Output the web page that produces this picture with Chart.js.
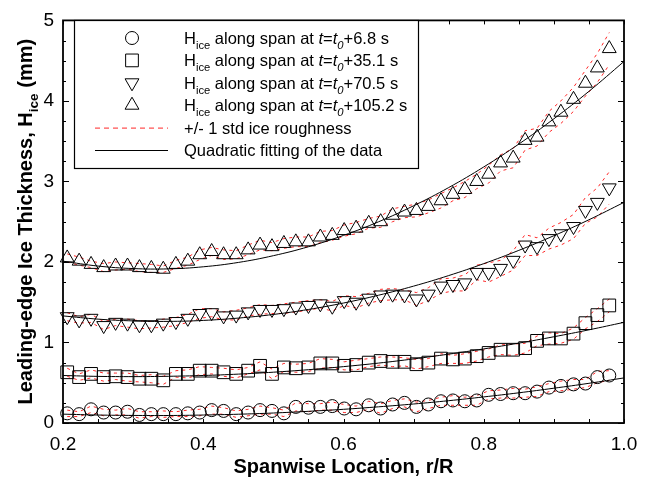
<!DOCTYPE html>
<html>
<head>
<meta charset="utf-8">
<script src="https://cdn.jsdelivr.net/npm/chart.js@4.4.1/dist/chart.umd.min.js"></script>
<style>
html, body { margin: 0; padding: 0; background: #fff; }
#wrap { width: 656px; height: 479px; }
</style>
</head>
<body>
<div id="wrap"><canvas id="iceChart" width="656" height="479"></canvas></div>
<script>
// spanwise stations (r/R)
const span = [
    0.206, 0.223, 0.240, 0.258, 0.275, 0.292, 0.309, 0.326, 0.343, 0.361,
    0.378, 0.395, 0.412, 0.429, 0.447, 0.464, 0.481, 0.498, 0.515, 0.532,
    0.550, 0.567, 0.584, 0.601, 0.618, 0.636, 0.653, 0.670, 0.687, 0.704,
    0.721, 0.739, 0.756, 0.773, 0.790, 0.807, 0.824, 0.842, 0.859, 0.876,
    0.893, 0.910, 0.928, 0.945, 0.962, 0.979
];

// ice thickness (mm) at each time
const hIce068 = [
    0.12, 0.11, 0.17, 0.13, 0.13, 0.14, 0.10, 0.11, 0.11, 0.11,
    0.12, 0.13, 0.16, 0.15, 0.11, 0.13, 0.16, 0.15, 0.12, 0.20,
    0.19, 0.20, 0.21, 0.18, 0.17, 0.22, 0.18, 0.23, 0.25, 0.20,
    0.23, 0.27, 0.28, 0.27, 0.28, 0.35, 0.36, 0.37, 0.37, 0.39,
    0.44, 0.46, 0.48, 0.49, 0.57, 0.59
];
const hIce351 = [
    0.63, 0.57, 0.61, 0.57, 0.58, 0.57, 0.55, 0.55, 0.53, 0.61,
    0.61, 0.65, 0.65, 0.63, 0.61, 0.65, 0.71, 0.61, 0.69, 0.68,
    0.69, 0.74, 0.74, 0.71, 0.72, 0.75, 0.77, 0.76, 0.76, 0.73,
    0.75, 0.80, 0.79, 0.80, 0.83, 0.87, 0.91, 0.91, 0.93, 1.02,
    1.05, 1.05, 1.11, 1.24, 1.34, 1.46
];
const hIce705 = [
    1.32, 1.28, 1.30, 1.21, 1.25, 1.24, 1.22, 1.22, 1.24, 1.26,
    1.30, 1.36, 1.37, 1.33, 1.34, 1.38, 1.41, 1.41, 1.42, 1.44,
    1.46, 1.48, 1.45, 1.52, 1.50, 1.55, 1.59, 1.60, 1.59, 1.54,
    1.60, 1.70, 1.72, 1.74, 1.87, 1.87, 1.92, 2.02, 2.21, 2.19,
    2.29, 2.35, 2.44, 2.64, 2.74, 2.92
];
const hIce1052 = [
    2.05, 2.01, 1.97, 1.93, 1.95, 1.95, 1.93, 1.92, 1.91, 1.97,
    2.01, 2.09, 2.13, 2.09, 2.09, 2.15, 2.21, 2.19, 2.23, 2.25,
    2.25, 2.31, 2.33, 2.39, 2.42, 2.48, 2.50, 2.58, 2.62, 2.64,
    2.69, 2.76, 2.84, 2.90, 3.00, 3.09, 3.23, 3.29, 3.51, 3.55,
    3.74, 3.86, 4.02, 4.22, 4.41, 4.65
];

// ice roughness, 1 std (mm)
const std068 = [
    0.04, 0.03, 0.04, 0.04, 0.03, 0.04, 0.04, 0.03, 0.04, 0.03,
    0.04, 0.04, 0.05, 0.04, 0.04, 0.04, 0.05, 0.04, 0.04, 0.05,
    0.05, 0.04, 0.05, 0.05, 0.04, 0.05, 0.06, 0.05, 0.05, 0.06,
    0.05, 0.05, 0.06, 0.05, 0.06, 0.05, 0.05, 0.06, 0.05, 0.06,
    0.05, 0.06, 0.06, 0.05, 0.07, 0.06
];
const std351 = [
    0.05, 0.04, 0.05, 0.05, 0.04, 0.05, 0.04, 0.05, 0.05, 0.04,
    0.05, 0.05, 0.04, 0.05, 0.05, 0.04, 0.05, 0.06, 0.05, 0.05,
    0.05, 0.06, 0.05, 0.05, 0.06, 0.05, 0.05, 0.06, 0.05, 0.06,
    0.05, 0.06, 0.05, 0.06, 0.06, 0.05, 0.06, 0.07, 0.06, 0.06,
    0.07, 0.06, 0.07, 0.07, 0.08, 0.08
];
const std705 = [
    0.05, 0.04, 0.05, 0.05, 0.04, 0.05, 0.05, 0.04, 0.05, 0.05,
    0.05, 0.06, 0.05, 0.05, 0.06, 0.05, 0.06, 0.05, 0.06, 0.06,
    0.06, 0.05, 0.06, 0.06, 0.07, 0.06, 0.07, 0.07, 0.06, 0.08,
    0.08, 0.09, 0.08, 0.10, 0.09, 0.12, 0.10, 0.12, 0.13, 0.11,
    0.13, 0.14, 0.15, 0.16, 0.18, 0.20
];
const std1052 = [
    0.05, 0.05, 0.04, 0.05, 0.05, 0.04, 0.05, 0.05, 0.04, 0.05,
    0.05, 0.06, 0.05, 0.06, 0.05, 0.06, 0.06, 0.05, 0.06, 0.06,
    0.06, 0.07, 0.06, 0.07, 0.07, 0.06, 0.07, 0.08, 0.07, 0.08,
    0.08, 0.09, 0.08, 0.10, 0.09, 0.11, 0.10, 0.12, 0.12, 0.11,
    0.13, 0.14, 0.15, 0.16, 0.18, 0.20
];

// quadratic fits sampled along the span
const fitSpan = [0.20, 0.25, 0.30, 0.35, 0.40, 0.45, 0.50, 0.55, 0.60, 0.65, 0.70, 0.75, 0.80, 0.85, 0.90, 0.95, 1.00];
const fit068 = [0.110, 0.099, 0.094, 0.093, 0.099, 0.109, 0.124, 0.145, 0.170, 0.201, 0.236, 0.277, 0.324, 0.375, 0.432, 0.493, 0.560];
const fit351 = [0.590, 0.579, 0.576, 0.580, 0.590, 0.607, 0.631, 0.662, 0.700, 0.744, 0.796, 0.855, 0.920, 0.992, 1.071, 1.157, 1.250];
const fit705 = [1.330, 1.290, 1.268, 1.262, 1.274, 1.303, 1.348, 1.410, 1.490, 1.587, 1.700, 1.831, 1.979, 2.144, 2.326, 2.524, 2.740];
const fit1052 = [2.010, 1.949, 1.918, 1.914, 1.940, 1.994, 2.078, 2.189, 2.330, 2.499, 2.698, 2.924, 3.180, 3.464, 3.778, 4.119, 4.490];

const xTicks = [0.2, 0.4, 0.6, 0.8, 1.0];
const yTicks = [0, 1, 2, 3, 4, 5];
const timeLabels = ['6.8', '35.1', '70.5', '105.2'];

const FONT = "'Liberation Sans', Arial, Helvetica, sans-serif";

const markerSets = [
    { vals: hIce068, std: std068, fit: fit068, style: 'circle', radius: 6.5, rotation: 0 },
    { vals: hIce351, std: std351, fit: fit351, style: 'rect', radius: 9, rotation: 0 },
    { vals: hIce705, std: std705, fit: fit705, style: 'triangle', radius: 8, rotation: 180 },
    { vals: hIce1052, std: std1052, fit: fit1052, style: 'triangle', radius: 8, rotation: 0 },
];

const datasets = [];
markerSets.forEach(s => {
    [1, -1].forEach(sign => {
        datasets.push({
            data: span.map((x, i) => ({ x, y: s.vals[i] + sign * s.std[i] })),
            showLine: true,
            borderColor: 'rgba(255, 0, 0, 0.85)',
            borderWidth: 1,
            borderDash: [3, 4],
            pointRadius: 0,
            order: 3,
        });
    });
    datasets.push({
        data: span.map((x, i) => ({ x, y: s.vals[i] })),
        showLine: false,
        pointStyle: s.style,
        pointRadius: s.radius,
        rotation: s.rotation,
        pointBorderColor: '#000',
        pointBackgroundColor: 'rgba(0,0,0,0)',
        pointBorderWidth: 1,
        clip: false,
        order: 2,
    });
    datasets.push({
        data: fitSpan.map((x, i) => ({ x, y: s.fit[i] })),
        showLine: true,
        borderColor: '#000',
        borderWidth: 1,
        pointRadius: 0,
        tension: 0.4,
        order: 1,
    });
});

function drawRich(ctx, x, y, parts, size, bold) {
    parts.forEach(p => {
        const fs = p.sub ? size * 0.68 : size;
        ctx.font = `${p.it ? 'italic ' : ''}${bold ? 'bold ' : ''}${fs}px ${FONT}`;
        ctx.fillText(p.t, x, y + (p.sub ? size * 0.3 : 0));
        x += ctx.measureText(p.t).width;
    });
    return x;
}

function richWidth(ctx, parts, size, bold) {
    let w = 0;
    parts.forEach(p => {
        const fs = p.sub ? size * 0.68 : size;
        ctx.font = `${p.it ? 'italic ' : ''}${bold ? 'bold ' : ''}${fs}px ${FONT}`;
        w += ctx.measureText(p.t).width;
    });
    return w;
}

function drawMarker(ctx, style, r, rotation, x, y) {
    ctx.beginPath();
    if (style === 'circle') {
        ctx.arc(x, y, r, 0, Math.PI * 2);
    } else if (style === 'rect') {
        const h = r * Math.SQRT1_2;
        ctx.rect(x - h, y - h, 2 * h, 2 * h);
    } else {
        const rad = rotation * Math.PI / 180;
        for (let k = 0; k < 3; k++) {
            const a = rad + k * 2 * Math.PI / 3;
            const px = x + Math.sin(a) * r, py = y - Math.cos(a) * r;
            if (k === 0) ctx.moveTo(px, py); else ctx.lineTo(px, py);
        }
        ctx.closePath();
    }
    ctx.stroke();
}

const decorations = {
    id: 'decorations',
    afterDraw(chart) {
        const { ctx, chartArea: a, scales: { x, y } } = chart;
        ctx.save();
        ctx.strokeStyle = '#000';
        ctx.fillStyle = '#000';
        ctx.lineWidth = 1;
        ctx.setLineDash([]);

        // inward ticks on all sides
        ctx.beginPath();
        for (let k = 0; k <= 16; k++) {
            const px = Math.round(x.getPixelForValue(0.2 + k * 0.05)) + 0.5;
            ctx.moveTo(px, a.bottom); ctx.lineTo(px, a.bottom - 4);
            ctx.moveTo(px, a.top); ctx.lineTo(px, a.top + 4);
        }
        for (let k = 0; k <= 20; k++) {
            const len = k % 4 === 0 ? 6 : 3;
            const py = Math.round(y.getPixelForValue(k * 0.25)) + 0.5;
            ctx.moveTo(a.left, py); ctx.lineTo(a.left + len, py);
            ctx.moveTo(a.right, py); ctx.lineTo(a.right - len, py);
        }
        ctx.stroke();

        // frame
        ctx.lineWidth = 1.8;
        ctx.strokeRect(a.left, a.top, a.right - a.left, a.bottom - a.top);

        // axis titles
        ctx.textBaseline = 'alphabetic';
        ctx.font = `bold 20px ${FONT}`;
        ctx.textAlign = 'center';
        ctx.fillText('Spanwise Location, r/R', (a.left + a.right) / 2, 473);
        ctx.textAlign = 'left';
        const yTitle = [{ t: 'Leading-edge Ice Thickness, H' }, { t: 'ice', sub: true }, { t: ' (mm)' }];
        const wT = richWidth(ctx, yTitle, 20, true);
        ctx.save();
        ctx.translate(32, (a.top + a.bottom) / 2);
        ctx.rotate(-Math.PI / 2);
        drawRich(ctx, -wT / 2, 0, yTitle, 20, true);
        ctx.restore();

        // legend
        const bx = 74, by = 20, bw = 344, bh = 148;
        ctx.fillStyle = '#fff';
        ctx.fillRect(bx, by, bw, bh);
        ctx.lineWidth = 1.2;
        ctx.strokeStyle = '#000';
        ctx.strokeRect(bx + 0.5, by + 0.5, bw, bh);
        ctx.fillStyle = '#000';
        const rowY = [38, 60.4, 82.8, 105.2, 127.6, 150];
        const textX = 184;
        ctx.lineWidth = 1;
        markerSets.forEach((s, i) => {
            drawMarker(ctx, s.style, s.radius, s.rotation, 132, rowY[i]);
            drawRich(ctx, textX, rowY[i] + 6, [
                { t: 'H' }, { t: 'ice', sub: true }, { t: ' along span at ' },
                { t: 't', it: true }, { t: '=' }, { t: 't', it: true }, { t: '0', it: true, sub: true },
                { t: '+' + timeLabels[i] + ' s' }
            ], 16.5, false);
        });
        ctx.strokeStyle = 'rgba(255, 0, 0, 0.85)';
        ctx.setLineDash([5, 4]);
        ctx.beginPath();
        ctx.moveTo(95, rowY[4] + 0.5); ctx.lineTo(168, rowY[4] + 0.5);
        ctx.stroke();
        ctx.setLineDash([]);
        ctx.strokeStyle = '#000';
        ctx.beginPath();
        ctx.moveTo(95, rowY[5] + 0.5); ctx.lineTo(168, rowY[5] + 0.5);
        ctx.stroke();
        ctx.font = `16.5px ${FONT}`;
        ctx.fillText('+/- 1 std ice roughness', textX, rowY[4] + 6);
        ctx.fillText('Quadratic fitting of the data', textX, rowY[5] + 6);
        ctx.restore();
    }
};

new Chart(document.getElementById('iceChart'), {
    type: 'scatter',
    data: { datasets },
    options: {
        responsive: false,
        animation: false,
        devicePixelRatio: 1,
        layout: { padding: { top: 13, right: 32, left: 0, bottom: 0 } },
        plugins: { legend: { display: false }, tooltip: { enabled: false } },
        scales: {
            x: {
                min: 0.2,
                max: 1.0,
                afterBuildTicks: s => { s.ticks = xTicks.map(v => ({ value: v })); },
                afterFit: s => { s.height = 56; },
                ticks: {
                    color: '#000',
                    font: { family: FONT, size: 19 },
                    padding: 10,
                    maxRotation: 0,
                    callback: v => v.toFixed(1),
                },
                grid: { display: false, drawTicks: false },
                border: { display: false },
            },
            y: {
                min: 0,
                max: 5,
                afterBuildTicks: s => { s.ticks = yTicks.map(v => ({ value: v })); },
                afterFit: s => { s.width = 63; },
                ticks: {
                    color: '#000',
                    font: { family: FONT, size: 19 },
                    padding: 9,
                    callback: v => String(v),
                },
                grid: { display: false, drawTicks: false },
                border: { display: false },
            },
        },
    },
    plugins: [decorations],
});
</script>
</body>
</html>
